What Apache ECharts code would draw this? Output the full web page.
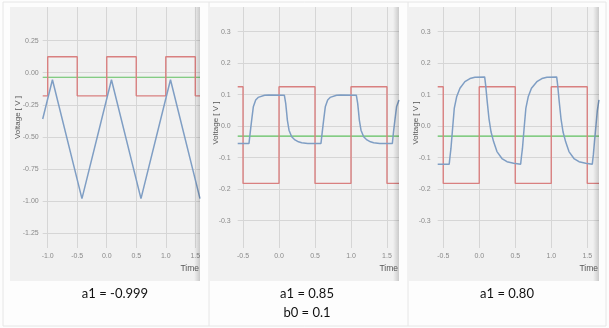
<!DOCTYPE html>
<html>
<head>
<meta charset="utf-8">
<script src="https://cdn.jsdelivr.net/npm/echarts@6/dist/echarts.min.js"></script>
<style>
html,body{margin:0;padding:0;background:#fdfdfd;}
#chart{width:609px;height:328px;}
</style>
</head>
<body>
<div id="chart"></div>
<script>
// ---- tick labels ----
const xTicksP1 = [-1.0, -0.5, 0.0, 0.5, 1.0, 1.5];
const yTicksP1 = [0.25, 0.0, -0.25, -0.5, -0.75, -1.0, -1.25];
const xTicksP23 = [-0.5, 0.0, 0.5, 1.0, 1.5];
const yTicksP23 = [0.3, 0.2, 0.1, 0.0, -0.1, -0.2, -0.3];

// ---- panel captions ----
const captions = [["a1 = -0.999"], ["a1 = 0.85", "b0 = 0.1"], ["a1 = 0.80"]];

// ---- panel 1 (a1 = -0.999) ----
const p1Square = [[-1.085,-0.18],[-1,-0.18],[-1,0.125],[-0.5,0.125],[-0.5,-0.18],[0,-0.18],[0,0.125],[0.5,0.125],[0.5,-0.18],[1,-0.18],[1,0.125],[1.5,0.125],[1.5,-0.18],[1.58,-0.18]];
const p1Output = [[-1.085,-0.36],[-0.92,-0.055],[-0.42,-0.98],[0.08,-0.055],[0.58,-0.98],[1.08,-0.055],[1.58,-0.98]];
const p1Level = [[-1.085,-0.035],[1.58,-0.035]];

// ---- panel 2 (a1 = 0.85, b0 = 0.1) ----
const p2Square = [[-0.574,0.125],[-0.5,0.125],[-0.5,-0.182],[0,-0.182],[0,0.125],[0.5,0.125],[0.5,-0.182],[1,-0.182],[1,0.125],[1.5,0.125],[1.5,-0.182],[1.667,-0.182]];
const p2Output = [[-0.574,-0.055],[-0.417,-0.055],[-0.40,-0.02],[-0.38,0.019],[-0.357,0.061],[-0.324,0.083],[-0.29,0.091],[-0.264,0.095],[-0.2,0.098],[-0.148,0.099],[0.074,0.098],
  [0.093,0.072],[0.105,0.045],[0.116,0.019],[0.139,-0.013],[0.176,-0.034],[0.222,-0.044],[0.27,-0.05],[0.315,-0.053],[0.4,-0.055],[0.583,-0.055],
  [0.60,-0.02],[0.62,0.019],[0.643,0.061],[0.676,0.083],[0.71,0.091],[0.736,0.095],[0.8,0.098],[0.852,0.099],[1.074,0.098],
  [1.093,0.072],[1.105,0.045],[1.116,0.019],[1.139,-0.013],[1.176,-0.034],[1.222,-0.044],[1.27,-0.05],[1.315,-0.053],[1.4,-0.055],[1.575,-0.055],
  [1.59,-0.02],[1.61,0.019],[1.633,0.061],[1.667,0.083]];
const p2Level = [[-0.574,-0.032],[1.667,-0.032]];

// ---- panel 3 (a1 = 0.80) ----
const p3Square = [[-0.577,0.125],[-0.5,0.125],[-0.5,-0.182],[0,-0.182],[0,0.125],[0.5,0.125],[0.5,-0.182],[1,-0.182],[1,0.125],[1.5,0.125],[1.5,-0.182],[1.663,-0.182]];
const p3Output = [[-0.577,-0.121],[-0.417,-0.121],[-0.405,-0.095],[-0.393,-0.071],[-0.37,-0.007],[-0.347,0.056],[-0.314,0.093],[-0.268,0.12],[-0.199,0.141],[-0.129,0.151],[-0.06,0.155],[0.075,0.156],
  [0.089,0.13],[0.111,0.077],[0.135,0.024],[0.163,-0.018],[0.2,-0.05],[0.246,-0.081],[0.315,-0.103],[0.385,-0.113],[0.478,-0.118],[0.575,-0.121],
  [0.587,-0.095],[0.6,-0.071],[0.623,-0.007],[0.647,0.056],[0.68,0.093],[0.725,0.12],[0.8,0.141],[0.87,0.151],[0.94,0.155],[1.075,0.156],
  [1.089,0.13],[1.111,0.077],[1.135,0.024],[1.163,-0.018],[1.2,-0.05],[1.246,-0.081],[1.315,-0.103],[1.385,-0.113],[1.478,-0.118],[1.57,-0.121],
  [1.585,-0.09],[1.6,-0.05],[1.62,0.0],[1.64,0.05],[1.663,0.083]];
const p3Level = [[-0.577,-0.032],[1.663,-0.032]];

const RED = '#d98080', BLUE = '#7f9ec4', GREEN = '#5fbf5f';
const LBL = '#8a8a8a', NAME = '#555';
const FONT = 'Liberation Sans';

const panels = [
  {grid:{left:42.7, top:7, width:157.3, height:241}, x:[-1.085,1.58], y:[-1.365,0.512], xt:xTicksP1, yt:yTicksP1, xd:1, yd:2, ym:4, np:20, ng:20.5,
   sq:p1Square, out:p1Output, lvl:p1Level, bg:[10,7,190,274]},
  {grid:{left:237.7, top:7, width:161.3, height:241}, x:[-0.574,1.667], y:[-0.387,0.378], xt:xTicksP23, yt:yTicksP23, xd:1, yd:1, ym:7, np:9, ng:17.5,
   sq:p2Square, out:p2Output, lvl:p2Level, bg:[209,7,190,274]},
  {grid:{left:437.7, top:7, width:161.3, height:241}, x:[-0.577,1.663], y:[-0.387,0.378], xt:xTicksP23, yt:yTicksP23, xd:1, yd:1, ym:7, np:9, ng:17.5,
   sq:p3Square, out:p3Output, lvl:p3Level, bg:[408,7,191,274]}
];

const grid = [], xAxis = [], yAxis = [], series = [], graphic = [];
// outer frame lines
[[3,2,3,326],[209,2,209,326],[408,2,408,326],[606,2,606,326],[3,2,606,2],[3,326,606,326]].forEach(l=>{
  graphic.push({type:'line', z:-50, shape:{x1:l[0],y1:l[1],x2:l[2],y2:l[3]}, style:{stroke:'#e6e6e6', lineWidth:1}});
});
panels.forEach((p,i)=>{
  graphic.push({type:'rect', z:-40, shape:{x:p.bg[0], y:p.bg[1], width:p.bg[2], height:p.bg[3]}, style:{fill:'#f1f1f1'}});
  graphic.push({type:'rect', z:100, shape:{x:p.bg[0]+p.bg[2]-6, y:p.bg[1], width:6, height:p.bg[3]},
    style:{fill:new echarts.graphic.LinearGradient(0,0,1,0,[{offset:0,color:'rgba(0,0,0,0)'},{offset:1,color:'rgba(0,0,0,0.16)'}])}});
  grid.push(Object.assign({containLabel:false, outerBoundsMode:'none'}, p.grid));
  xAxis.push({type:'value', gridIndex:i, min:p.x[0], max:p.x[1], position:'bottom',
    axisLine:{show:false, onZero:false}, axisTick:{show:false, customValues:p.xt},
    axisLabel:{customValues:p.xt, color:LBL, fontSize:7, fontFamily:FONT, margin:5, formatter:v=>v.toFixed(p.xd)},
    splitLine:{show:true, lineStyle:{color:'#d6d6d6', width:1}},
    name:'Time', nameLocation:'end', nameGap:0, nameMoveOverlap:false,
    nameTextStyle:{color:NAME, fontSize:8.5, fontFamily:FONT, align:'right', verticalAlign:'top', padding:[16,1,0,0]}});
  yAxis.push({type:'value', gridIndex:i, min:p.y[0], max:p.y[1], position:'left',
    axisLine:{show:false, onZero:false}, axisTick:{show:false, customValues:p.yt},
    axisLabel:{customValues:p.yt, color:LBL, fontSize:7, fontFamily:FONT, margin:p.ym, formatter:v=>v.toFixed(p.yd)},
    splitLine:{show:true, lineStyle:{color:'#d6d6d6', width:1}},
    name:'Voltage [ V ]', nameLocation:'middle', nameGap:p.ng, nameMoveOverlap:false,
    nameTextStyle:{color:NAME, fontSize:8, fontFamily:FONT, padding:[0,0,0,p.np]}});
  const common = {type:'line', xAxisIndex:i, yAxisIndex:i, showSymbol:false, symbol:'none', animation:false, silent:true};
  series.push(Object.assign({}, common, {data:p.lvl, lineStyle:{color:GREEN, width:1.2}, z:2}));
  series.push(Object.assign({}, common, {data:p.sq, lineStyle:{color:RED, width:1.4}, z:3}));
  series.push(Object.assign({}, common, {data:p.out, lineStyle:{color:BLUE, width:1.5}, z:4}));
});
const capX = [115, 307, 507];
captions.forEach((lines,i)=>{
  lines.forEach((t,j)=>{
    graphic.push({type:'text', z:10, x:capX[i], y:294 + j*19,
      style:{text:t, fill:'#111', font:'13px Lato', align:'center', verticalAlign:'middle'}});
  });
});

const chart = echarts.init(document.getElementById('chart'), null, {renderer:'canvas'});
chart.setOption({backgroundColor:'#fdfdfd', animation:false, grid, xAxis, yAxis, series, graphic});
</script>
</body>
</html>
